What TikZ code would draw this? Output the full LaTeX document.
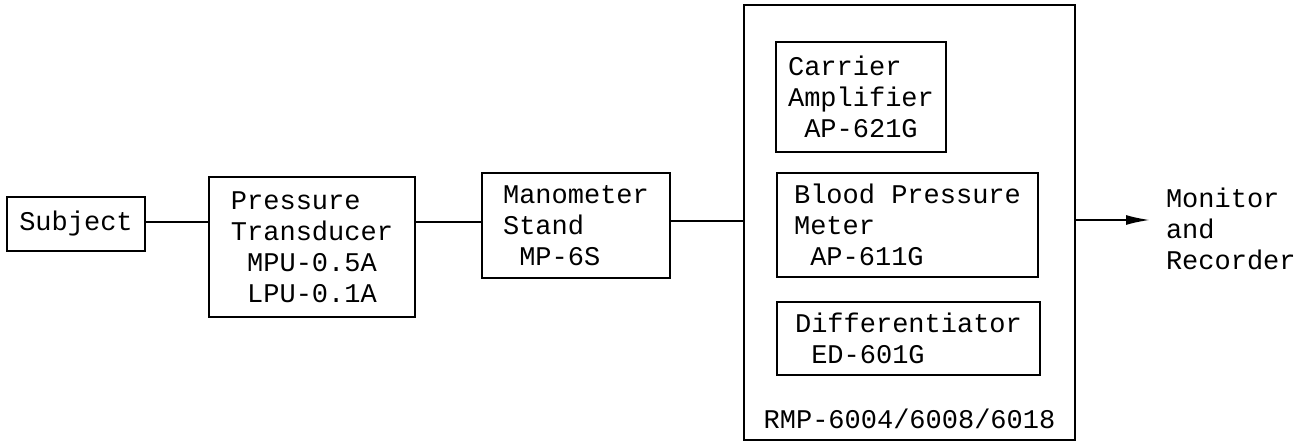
\documentclass[tikz,border=0pt]{standalone}
\usepackage{fontspec}
\setmonofont{Liberation Mono}
\usepackage{tikz}
\usetikzlibrary{arrows.meta,positioning,calc}

\begin{document}
\begin{tikzpicture}[
  x=0.5pt, y=-0.5pt, line width=1pt,
  every node/.style={font=\ttfamily\fontsize{13.5}{15.5}\selectfont},
  blk/.style={draw, align=left, inner sep=0pt},
  rack/.style={draw, inner sep=0pt, minimum width=165.5pt, minimum height=217.5pt},
  wire/.style={-},
  outarr/.style={-{Latex[length=12pt,width=5pt]}},
  outlabel/.style={align=left, anchor=west, inner sep=0pt}
]
  \useasboundingbox (0,0) rectangle (1303,443);

  % signal chain
  \node[blk, minimum width=69pt, minimum height=27pt] (subj) at (76,224) {Subject};
  \node[blk, minimum width=103pt, minimum height=70pt] (trans) at (312,247)
       {Pressure\\Transducer\\\ MPU-0.5A\\\ LPU-0.1A};
  \node[blk, minimum width=94pt, minimum height=52.5pt] (mano) at (576,225.5)
       {Manometer\\Stand\\\ MP-6S};

  % RMP rack with its units
  \node[rack] (rmp) at (909.5,222.5) {};
  \node[blk, minimum width=85pt, minimum height=55pt] (carrier) at (861,97)
       {Carrier\\Amplifier\\\ AP-621G};
  \node[blk, minimum width=130.5pt, minimum height=52pt] (bpm) at (907.5,225)
       {Blood Pressure\\Meter\\\ AP-611G};
  \node[blk, minimum width=131.5pt, minimum height=36.5pt] (diff) at (908.5,338.5)
       {Differentiator\\\ ED-601G};
  \node[anchor=base, inner sep=0pt] (rmplabel) at ([yshift=6pt]rmp.south)
       {RMP-6004/6008/6018};

  \node[outlabel] (mon) at (1165,229) {Monitor\\and\\Recorder};
  \coordinate (monin) at ([xshift=-7.5pt]mon.west);

  % connections
  \draw[wire] ([yshift=1pt]subj.east) -- ([yshift=1pt]subj.east -| trans.west);
  \draw[wire] ([yshift=1pt]subj.east -| trans.east) -- ([yshift=1pt]subj.east -| mano.west);
  \draw[wire] ([yshift=1.5pt]subj.east -| mano.east) -- ([yshift=1.5pt]subj.east -| rmp.west);
  \draw[outarr] ([yshift=2pt]subj.east -| rmp.east) -- ([yshift=2pt]subj.east -| monin);
\end{tikzpicture}
\end{document}
